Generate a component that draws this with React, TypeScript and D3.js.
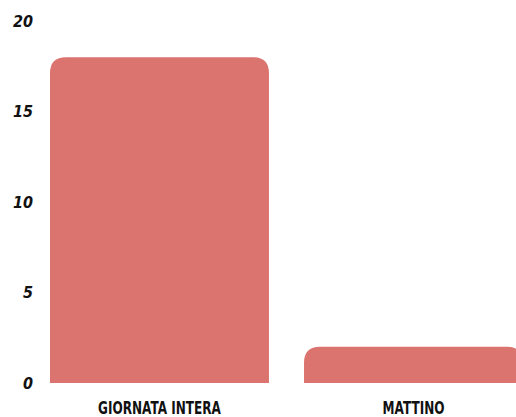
import React from "react";
import * as d3 from "d3";

const categories = ["GIORNATA INTERA", "MATTINO"];
const values = [18, 2];
const yTicks = [0, 5, 10, 15, 20];

const W = 516;
const H = 417;
const baseY = 383;
const topY = 21;
const color = "#DB736E";
const font = "'DejaVu Sans', sans-serif";

function roundedTop(x: number, y: number, w: number, h: number, r: number) {
  const rr = Math.min(r, h, w / 2);
  return `M${x},${y + h}V${y + rr}Q${x},${y} ${x + rr},${y}H${x + w - rr}Q${x + w},${y} ${x + w},${y + rr}V${y + h}Z`;
}

export default function App() {
  const x = d3.scaleBand<string>().domain(categories).range([50, 523]).paddingInner(0.138).paddingOuter(0);
  const y = d3.scaleLinear().domain([0, 20]).range([baseY, topY]);
  return (
    <svg width={W} height={H} style={{ position: "absolute", left: 0, top: 0, background: "#fff" }}>
      {categories.map((c, i) => {
        const x0 = x(c)!;
        const bw = x.bandwidth();
        const yv = y(values[i]);
        return (
          <g key={c}>
            <path d={roundedTop(x0, yv, bw, baseY - yv, 16)} fill={color} />
            <text
              transform={`translate(${x0 + bw / 2},414) scale(0.71,1)`}
              textAnchor="middle"
              fontFamily={font}
              fontWeight="bold"
              fontSize={17}
              fill="#111"
            >
              {c}
            </text>
          </g>
        );
      })}
      {yTicks.map((t) => (
        <text
          key={t}
          transform={`translate(33,${y(t)}) scale(0.9,1)`}
          dy="0.35em"
          textAnchor="end"
          fontFamily={font}
          fontWeight="bold"
          fontStyle="italic"
          fontSize={16}
          fill="#111"
        >
          {t}
        </text>
      ))}
    </svg>
  );
}
